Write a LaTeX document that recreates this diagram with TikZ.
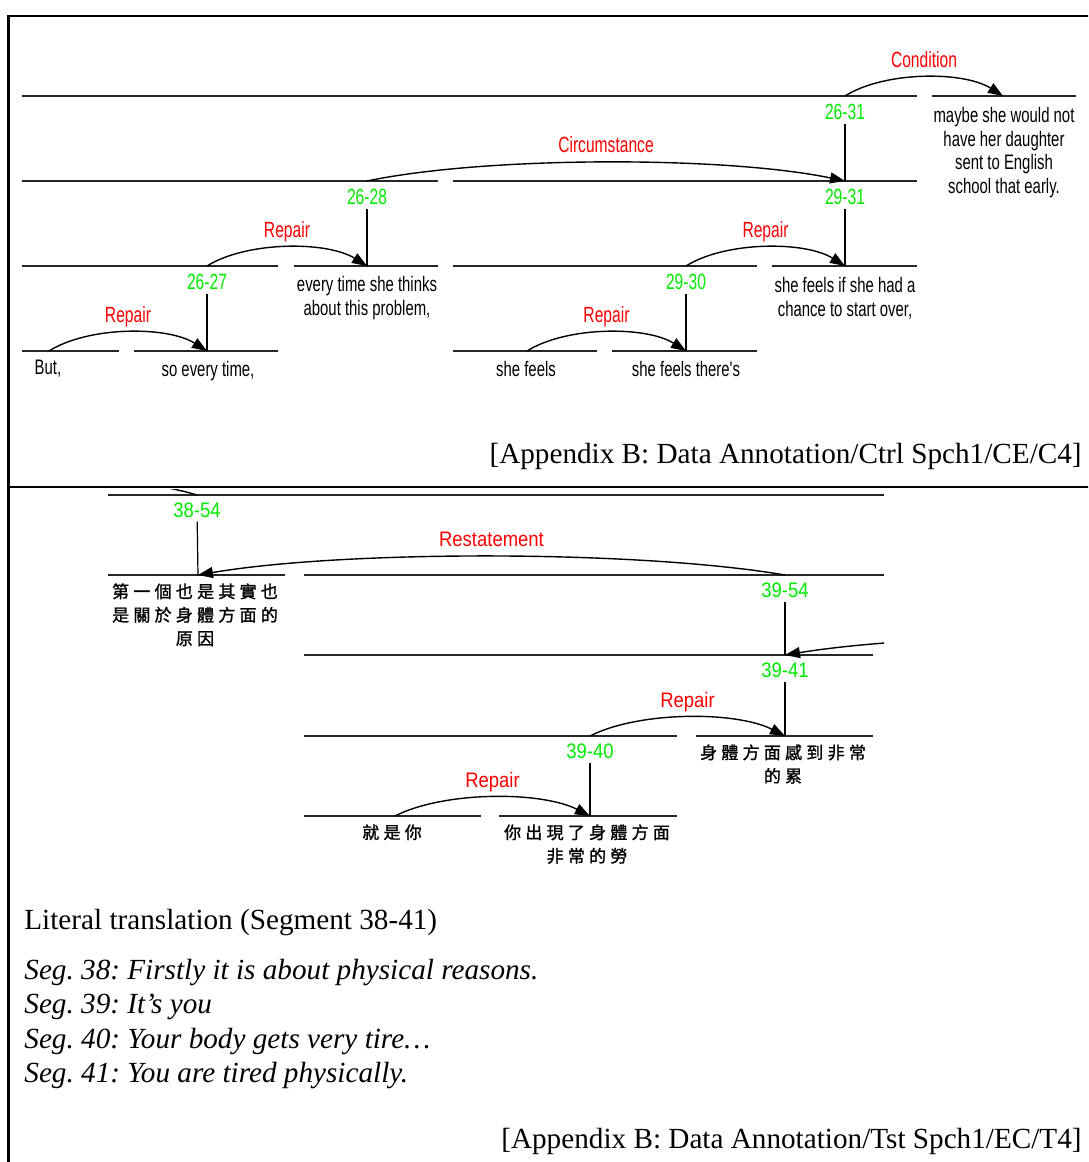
\documentclass[tikz,border=0pt]{standalone}
\usepackage{fontspec}
\setmainfont{Liberation Serif}
\newfontfamily\rsttop[FakeStretch=0.71]{Liberation Sans}
\newfontfamily\rstlow[FakeStretch=0.88]{Liberation Sans}
\newfontfamily\cjk[LetterSpace=25, FakeBold=1.3]{Noto Sans CJK TC}
\usetikzlibrary{arrows.meta,calc}
\frenchspacing

\definecolor{relred}{RGB}{255,0,0}
\definecolor{spangreen}{RGB}{0,235,0}

\tikzset{
	bar/.style={line width=1pt, black!85},
	spanline/.style={line width=0.6pt, shorten <=2pt},
	relarc/.style={line width=0.7pt, -{Triangle[length=7.5pt, width=5.5pt]},
		to path={.. controls ($(\tikztostart)!0.25!(\tikztotarget)+(0,-25)$)
			and ($(\tikztostart)!0.75!(\tikztotarget)+(0,-25)$) .. (\tikztotarget) \tikztonodes}},
	rellbl/.style={text=relred, anchor=base, inner sep=0pt, pos=0.5, yshift=5pt},
	spanlbl/.style={text=spangreen, anchor=base, inner sep=0pt},
	seg/.style={anchor=north, inner sep=0pt, align=center},
	note/.style={inner sep=0pt, font=\fontsize{14.6}{17}\selectfont},
}

\begin{document}
\begin{tikzpicture}[x=0.5pt, y=-0.5pt]
	\useasboundingbox (0,0) rectangle (1088,1162);
	\clip (0,0) rectangle (1088,1162);
	% frame
	\draw[line width=1.2pt] (8.5,1170) -- (8.5,16) -- (1100,16);
	\draw[line width=1.2pt] (8.5,487) -- (1100,487);

	% upper tree (Ctrl Spch1)
	\draw[bar] (22,96) -- (917,96) (932,96) -- (1076,96);
	\draw[bar] (22,181) -- (438,181) (453,181) -- (917,181);
	\draw[bar] (22,266) -- (278,266) (294,266) -- (438,266) (453,266) -- (757,266) (772,266) -- (917,266);
	\draw[bar] (22,351) -- (119,351) (134,351) -- (278,351) (453,351) -- (597,351) (612,351) -- (757,351);

	\coordinate (a2631) at (845,96);
	\coordinate (a32) at (1003,96);
	\coordinate (a2628) at (367,181);
	\coordinate (a2931) at (845,181);
	\coordinate (a2627) at (207,266);
	\coordinate (a28) at (367,266);
	\coordinate (a2930) at (686,266);
	\coordinate (a31) at (845,266);
	\coordinate (a26) at (49,351);
	\coordinate (a27) at (207,351);
	\coordinate (a29) at (527,351);
	\coordinate (a30) at (686,351);

	\begin{scope}[font=\rsttop\fontsize{11}{13}\selectfont]
	\node[spanlbl] (l2631) at (845,119) {26-31};
	\node[spanlbl] (l2628) at (367,204) {26-28};
	\node[spanlbl] (l2931) at (845,204) {29-31};
	\node[spanlbl] (l2627) at (207,289) {26-27};
	\node[spanlbl] (l2930) at (686,289) {29-30};
	\draw[spanline] (l2631) -- (a2931);
	\draw[spanline] (l2628) -- (a28);
	\draw[spanline] (l2931) -- (a31);
	\draw[spanline] (l2627) -- (a27);
	\draw[spanline] (l2930) -- (a30);

	\draw[relarc] (a2631) to node[rellbl] {Condition} (a32);
	\draw[relarc] (a2628) to node[rellbl] {Circumstance} (a2931);
	\draw[relarc] (a2627) to node[rellbl] {Repair} (a28);
	\draw[relarc] (a2930) to node[rellbl] {Repair} (a31);
	\draw[relarc] (a26) to node[rellbl] {Repair} (a27);
	\draw[relarc] (a29) to node[rellbl] {Repair} (a30);
	\end{scope}

	\begin{scope}[font=\rsttop\fontsize{10.5}{11.8}\selectfont]
	\node[seg] (t32) at (1004,107) {maybe she would not\\have her daughter\\sent to English\\school that early.};
	\node[seg] (t28) at (367,276) {every time she thinks\\about this problem,};
	\node[seg] (t31) at (845,277) {she feels if she had a\\chance to start over,};
	\node[seg] (t26) at (48,360) {But,};
	\node[seg] (t27) at (208,361) {so every time,};
	\node[seg] (t29) at (526,361) {she feels};
	\node[seg] (t30) at (686,361) {she feels there's};
	\end{scope}

	\node[note, anchor=base east] (srcA) at (1082,463) {[Appendix B: Data Annotation/Ctrl Spch1/CE/C4]};

	% lower tree (Tst Spch1), cut at the right
	\begin{scope}[font=\rstlow\fontsize{10.5}{12}\selectfont]
	\clip (10,489) rectangle (884,1162);
	\draw[bar] (108,495) -- (884,495);
	\draw[bar] (108,575) -- (285,575) (304,575) -- (884,575);
	\draw[bar] (304,655) -- (873,655);
	\draw[bar] (304,736) -- (677,736) (696,736) -- (873,736);
	\draw[bar] (304,816) -- (481,816) (499,816) -- (677,816);

	\coordinate (a3854) at (197,495);
	\coordinate (offl) at (-135,495);
	\coordinate (a38) at (198,575);
	\coordinate (a3954) at (785,575);
	\coordinate (a3941) at (785,655);
	\coordinate (offr) at (1400,655);
	\coordinate (a3940) at (590,736);
	\coordinate (a41) at (785,736);
	\coordinate (a39) at (395,816);
	\coordinate (a40) at (590,816);

	\node[spanlbl] (l3854) at (197,517) {38-54};
	\node[spanlbl] (l3954) at (785,597) {39-54};
	\node[spanlbl] (l3941) at (785,677) {39-41};
	\node[spanlbl] (l3940) at (590,758) {39-40};
	\draw[spanline] (l3854) -- (a38);
	\draw[spanline] (l3954) -- (a3941);
	\draw[spanline] (l3941) -- (a41);
	\draw[spanline] (l3940) -- (a40);

	\draw[relarc] (a3854) to (offl);
	\draw[relarc] (a3954) to node[rellbl] {Restatement} (a38);
	\draw[relarc] (offr) to (a3941);
	\draw[relarc] (a3940) to node[rellbl] {Repair} (a41);
	\draw[relarc] (a39) to node[rellbl] {Repair} (a40);
	\end{scope}

	\begin{scope}[font=\cjk\fontsize{8.5}{11.75}\selectfont]
	\node[seg] (t38) at (195,583) {第一個也是其實也\\是關於身體方面的\\原因};
	\node[seg] (t41) at (783,744) {身體方面感到非常\\的累};
	\node[seg] (t39) at (392,824) {就是你};
	\node[seg] (t40) at (587,824) {你出現了身體方面\\非常的勞};
	\end{scope}

	% translation
	\node[note, anchor=base west] (lit) at (24,929) {Literal translation (Segment 38-41)};
	\node[note, anchor=base west] (seg38) at (24,979) {\itshape Seg. 38: Firstly it is about physical reasons.};
	\node[note, anchor=base west] (seg39) at (24,1013) {\itshape Seg. 39: It’s you};
	\node[note, anchor=base west] (seg40) at (24,1048) {\itshape Seg. 40: Your body gets very tire…};
	\node[note, anchor=base west] (seg41) at (24,1082) {\itshape Seg. 41: You are tired physically.};
	\node[note, anchor=base east] (srcB) at (1082,1148) {[Appendix B: Data Annotation/Tst Spch1/EC/T4]};
\end{tikzpicture}
\end{document}
